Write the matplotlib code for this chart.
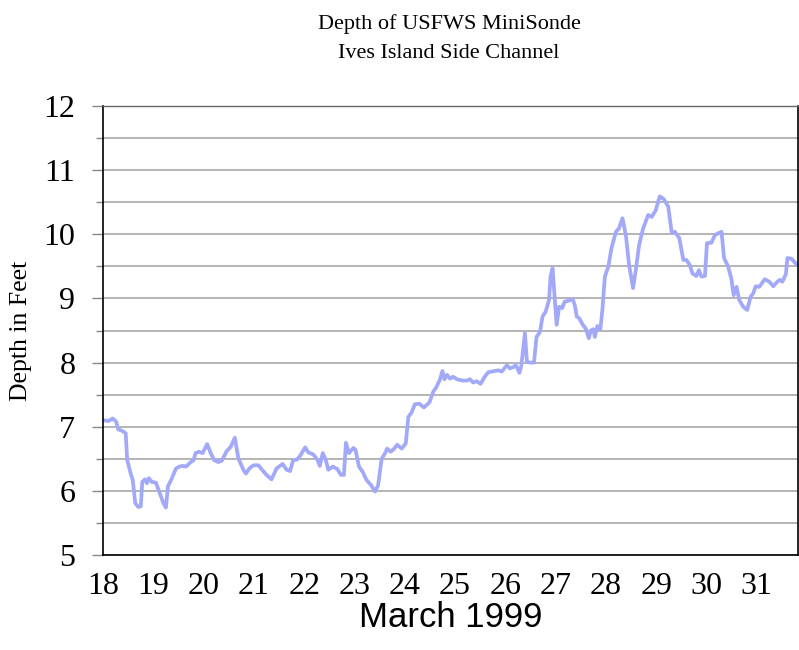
import numpy as np
import matplotlib
matplotlib.use('Agg')
from matplotlib import pyplot as plt
from matplotlib.ticker import MultipleLocator

# day of March 1999 (fractional) and depth in feet
day = [18.01, 18.11, 18.19, 18.26, 18.30, 18.37, 18.45, 18.48, 18.55, 18.59,
       18.64, 18.70, 18.75, 18.78, 18.83, 18.87, 18.91, 18.97, 19.05, 19.13,
       19.20, 19.25, 19.29, 19.37, 19.45, 19.52, 19.58, 19.65, 19.73, 19.80,
       19.84, 19.91, 19.98, 20.07, 20.14, 20.21, 20.29, 20.36, 20.45, 20.54,
       20.62, 20.69, 20.79, 20.84, 20.91, 20.99, 21.09, 21.16, 21.25, 21.35,
       21.45, 21.57, 21.65, 21.72, 21.78, 21.86, 21.93, 22.02, 22.08, 22.18,
       22.26, 22.31, 22.37, 22.43, 22.48, 22.57, 22.66, 22.73, 22.79, 22.83,
       22.89, 22.98, 23.02, 23.09, 23.16, 23.24, 23.33, 23.41, 23.47, 23.54,
       23.61, 23.65, 23.72, 23.79, 23.85, 23.94, 24.02, 24.07, 24.14, 24.20,
       24.29, 24.38, 24.49, 24.57, 24.63, 24.70, 24.75, 24.79, 24.84, 24.90,
       24.96, 25.04, 25.15, 25.24, 25.30, 25.36, 25.43, 25.51, 25.59, 25.66,
       25.79, 25.86, 25.93, 26.03, 26.09, 26.16, 26.21, 26.28, 26.32, 26.39,
       26.43, 26.50, 26.57, 26.62, 26.69, 26.74, 26.80, 26.87, 26.90, 26.94,
       26.99, 27.02, 27.07, 27.13, 27.18, 27.28, 27.34, 27.38, 27.42, 27.47,
       27.54, 27.60, 27.66, 27.70, 27.75, 27.78, 27.83, 27.89, 27.93, 27.98,
       28.05, 28.11, 28.20, 28.26, 28.33, 28.40, 28.46, 28.54, 28.60, 28.66,
       28.74, 28.84, 28.91, 28.99, 29.07, 29.15, 29.24, 29.31, 29.37, 29.46,
       29.54, 29.60, 29.67, 29.72, 29.80, 29.85, 29.90, 29.97, 30.01, 30.10,
       30.17, 30.30, 30.35, 30.43, 30.50, 30.54, 30.60, 30.65, 30.73, 30.81,
       30.88, 30.93, 30.98, 31.05, 31.16, 31.25, 31.33, 31.41, 31.46, 31.51,
       31.58, 31.61, 31.69, 31.78, 31.82]
depth = [7.10, 7.09, 7.13, 7.08, 6.96, 6.94, 6.90, 6.48, 6.27, 6.17,
         5.81, 5.75, 5.76, 6.14, 6.18, 6.12, 6.20, 6.14, 6.13, 5.96,
         5.81, 5.74, 6.07, 6.20, 6.35, 6.38, 6.39, 6.38, 6.44, 6.48,
         6.59, 6.61, 6.59, 6.73, 6.59, 6.48, 6.45, 6.47, 6.61, 6.69,
         6.83, 6.51, 6.33, 6.27, 6.35, 6.40, 6.40, 6.33, 6.25, 6.18,
         6.35, 6.42, 6.33, 6.31, 6.48, 6.49, 6.56, 6.68, 6.60, 6.57,
         6.49, 6.39, 6.59, 6.48, 6.33, 6.38, 6.34, 6.25, 6.25, 6.75,
         6.59, 6.67, 6.64, 6.38, 6.30, 6.17, 6.09, 5.99, 6.09, 6.50,
         6.59, 6.66, 6.61, 6.66, 6.72, 6.66, 6.74, 7.15, 7.23, 7.35,
         7.36, 7.30, 7.38, 7.55, 7.62, 7.74, 7.87, 7.74, 7.81, 7.75,
         7.78, 7.74, 7.72, 7.72, 7.74, 7.69, 7.71, 7.67, 7.78, 7.85,
         7.87, 7.88, 7.86, 7.96, 7.91, 7.93, 7.96, 7.84, 7.96, 8.46,
         8.01, 8.00, 8.00, 8.40, 8.48, 8.72, 8.79, 8.98, 9.34, 9.47,
         8.92, 8.59, 8.87, 8.85, 8.95, 8.97, 8.99, 8.90, 8.72, 8.69,
         8.59, 8.53, 8.38, 8.50, 8.52, 8.40, 8.57, 8.52, 8.82, 9.34,
         9.50, 9.78, 10.04, 10.09, 10.25, 9.97, 9.53, 9.16, 9.47, 9.83,
         10.09, 10.30, 10.27, 10.37, 10.59, 10.55, 10.43, 10.02, 10.04, 9.94,
         9.60, 9.60, 9.52, 9.39, 9.35, 9.44, 9.34, 9.35, 9.86, 9.87,
         9.99, 10.04, 9.63, 9.50, 9.29, 9.05, 9.18, 8.98, 8.87, 8.82,
         9.03, 9.08, 9.19, 9.18, 9.30, 9.26, 9.19, 9.26, 9.29, 9.26,
         9.38, 9.63, 9.62, 9.54, 9.52]

x_ticks = list(range(18, 32))
y_ticks = [5, 6, 7, 8, 9, 10, 11, 12]

serif = 'Liberation Serif'

fig = plt.figure(figsize=(7.99, 6.5), dpi=100)
ax = fig.add_axes([0.129, 0.146, 0.8697, 0.691])

ax.plot(day, depth, color='#a2a9f8', linewidth=2.7, solid_joinstyle='round')

ax.set_xlim(18, 31.82)
ax.set_ylim(5, 12)
ax.set_xticks(x_ticks)
ax.set_xticklabels([str(t) for t in x_ticks], fontfamily=serif, fontsize=23)
ax.set_yticks(y_ticks)
ax.set_yticklabels([str(t) for t in y_ticks], fontfamily=serif, fontsize=23)
ax.yaxis.set_minor_locator(MultipleLocator(0.5))

ax.tick_params(axis='x', length=0, pad=12)
ax.tick_params(axis='y', which='major', length=8, width=1, color='#888888', pad=12)
ax.tick_params(axis='y', which='minor', length=5, width=1, color='#888888')

ax.grid(True, axis='y', which='both', color='#a8a8a8', linewidth=1.2)
ax.set_axisbelow(True)

for side in ['left', 'right', 'bottom']:
    ax.spines[side].set_color('black')
    ax.spines[side].set_linewidth(1.2)
ax.spines['top'].set_color('#666666')
ax.spines['top'].set_linewidth(1.0)

ax.set_xlabel('March 1999', fontfamily='Liberation Sans', fontsize=25, labelpad=0)
ax.set_ylabel('Depth in Feet', fontfamily=serif, fontsize=18.5, labelpad=8)

fig.text(0.562, 0.963, 'Depth of USFWS MiniSonde', ha='center', va='center',
         fontfamily=serif, fontsize=16)
fig.text(0.562, 0.918, 'Ives Island Side Channel', ha='center', va='center',
         fontfamily=serif, fontsize=16)

fig.savefig('out.png', dpi=100)
